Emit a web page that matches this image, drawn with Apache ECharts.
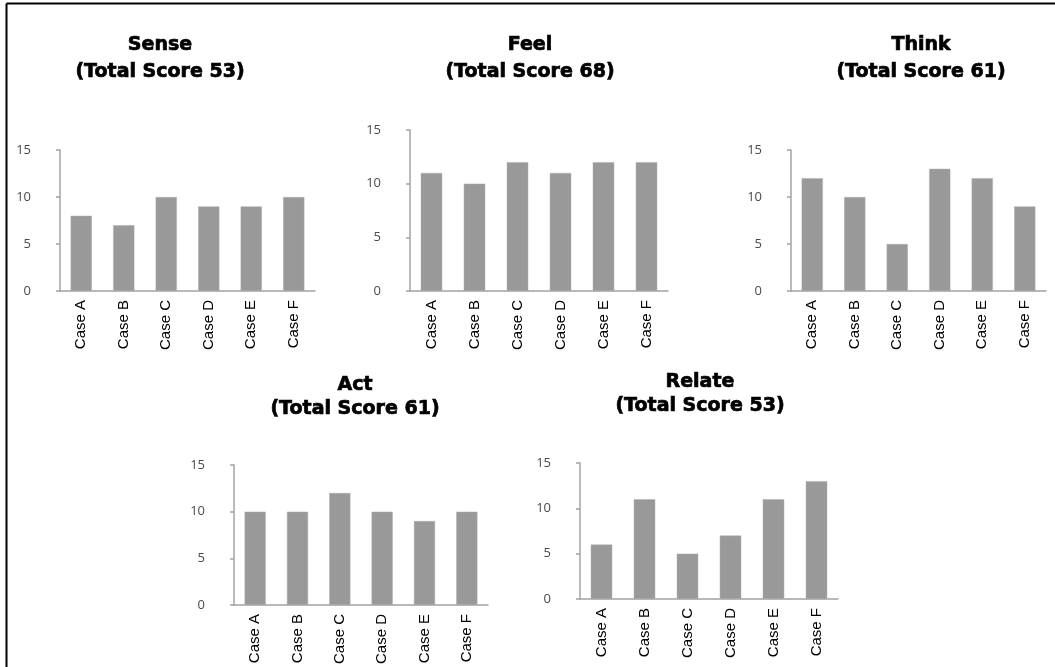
<!DOCTYPE html>
<html>
<head>
<meta charset="utf-8">
<style>
  html, body { margin: 0; padding: 0; background: #fff; }
  #chart { width: 1055px; height: 667px; }
</style>
<script src="https://cdn.jsdelivr.net/npm/echarts@6/dist/echarts.min.js"></script>
</head>
<body>
<div id="chart"></div>
<script>
// Experiential dimension scores per case
const categories = ['Case A', 'Case B', 'Case C', 'Case D', 'Case E', 'Case F'];
const senseScores  = [8, 7, 10, 9, 9, 10];
const feelScores   = [11, 10, 12, 11, 12, 12];
const thinkScores  = [12, 10, 5, 13, 12, 9];
const actScores    = [10, 10, 12, 10, 9, 10];
const relateScores = [6, 11, 5, 7, 11, 13];
const panelNames = ['Sense', 'Feel', 'Think', 'Act', 'Relate'];
const yTicks = [0, 5, 10, 15];

const panelData = [senseScores, feelScores, thinkScores, actScores, relateScores];

// Panel placement (pixels)
const grids = [
  { left: 60,  top: 150, width: 255, height: 141 },
  { left: 410, top: 130, width: 258, height: 161 },
  { left: 791, top: 150, width: 255, height: 141 },
  { left: 234, top: 465, width: 254, height: 142 },
  { left: 580, top: 463, width: 258, height: 136 }
];
const titlePos = [
  { x: 160, top: 32, lh: 27 },
  { x: 530, top: 32, lh: 27 },
  { x: 921, top: 32, lh: 27 },
  { x: 355, top: 373, lh: 24 },
  { x: 700, top: 370, lh: 24 }
];

const sum = arr => arr.reduce((a, b) => a + b, 0);
const axisColor = '#a3a3a3';
const barColor = '#999999';

const option = {
  backgroundColor: '#ffffff',
  animation: false,
  title: panelNames.map((name, i) => ({
    text: name + '\n(Total Score ' + sum(panelData[i]) + ')',
    left: titlePos[i].x,
    top: titlePos[i].top,
    textAlign: 'center',
    padding: 0,
    textStyle: {
      fontFamily: 'DejaVu Sans, sans-serif',
      fontWeight: 'bold',
      fontSize: 19,
      lineHeight: titlePos[i].lh,
      color: '#000',
      textBorderColor: '#000',
      textBorderWidth: 0.7
    }
  })),
  grid: grids.map(g => Object.assign({ containLabel: false }, g)),
  xAxis: grids.map((g, i) => ({
    type: 'category',
    gridIndex: i,
    data: categories,
    axisLine: { lineStyle: { color: axisColor, width: 1.5 } },
    axisTick: { show: false },
    axisLabel: {
      rotate: 90,
      margin: 9,
      interval: 0,
      fontFamily: 'Liberation Sans, Arial, sans-serif',
      fontSize: 15,
      color: '#000'
    }
  })),
  yAxis: grids.map((g, i) => ({
    type: 'value',
    gridIndex: i,
    min: yTicks[0],
    max: yTicks[yTicks.length - 1],
    interval: yTicks[1] - yTicks[0],
    splitLine: { show: false },
    axisLine: { show: true, lineStyle: { color: axisColor, width: 1.5 } },
    axisTick: { show: true, length: 4, lineStyle: { color: axisColor, width: 1.5 } },
    axisLabel: {
      margin: 29,
      fontFamily: 'Open Sans, DejaVu Sans, sans-serif',
      fontSize: 13,
      color: '#4a4a4a'
    }
  })),
  series: panelData.map((values, i) => ({
    type: 'bar',
    name: panelNames[i],
    xAxisIndex: i,
    yAxisIndex: i,
    data: values,
    barWidth: '50%',
    itemStyle: { color: barColor, borderColor: '#b0b0b0', borderWidth: 0.5 }
  })),
  graphic: [
    { type: 'line', shape: { x1: 6.5, y1: 3.5, x2: 6.5, y2: 667 }, style: { stroke: '#000', lineWidth: 2 } },
    { type: 'line', shape: { x1: 6.5, y1: 3.5, x2: 1055, y2: 3.5 }, style: { stroke: '#000', lineWidth: 2 } }
  ]
};

const chart = echarts.init(document.getElementById('chart'), null, { renderer: 'canvas' });
chart.setOption(option);
</script>
</body>
</html>
